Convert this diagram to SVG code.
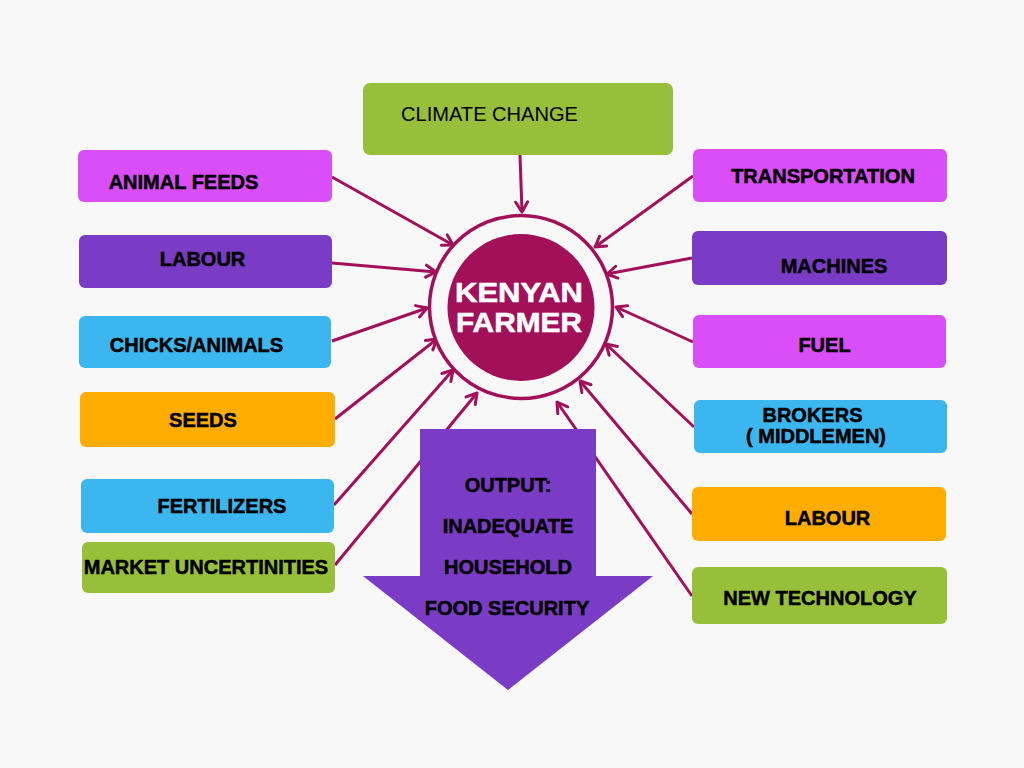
<svg xmlns="http://www.w3.org/2000/svg" width="1024" height="768" viewBox="0 0 1024 768">
<style>
.box{stroke:none}
.mag{fill:#D94EF6}
.pur{fill:#7A3CC4}
.blu{fill:#3BB6EF}
.org{fill:#FFAD00}
.grn{fill:#97BF3A}
.lbl{font-family:"Liberation Sans",Arial,sans-serif;font-weight:bold;font-size:20px;fill:#000;stroke:#000;stroke-width:0.5;text-anchor:middle}
.con{stroke:#A3105A;stroke-width:3;fill:none;marker-end:url(#ah)}
</style>
<defs>
<marker id="ah" markerUnits="userSpaceOnUse" markerWidth="16" markerHeight="16" refX="12" refY="7" orient="auto" viewBox="0 0 16 14">
<path d="M2,1 L12,7 L2,13" fill="none" stroke="#A3105A" stroke-width="3" stroke-linecap="round" stroke-linejoin="round"/>
</marker>
</defs>
<rect x="0" y="0" width="1024" height="768" fill="#F8F8F8"/>

<g id="connectors">
<line class="con" x1="520" y1="155" x2="522" y2="212"/>
<line class="con" x1="332" y1="177" x2="453" y2="245"/>
<line class="con" x1="332" y1="263" x2="436" y2="272"/>
<line class="con" x1="332" y1="341" x2="427" y2="308"/>
<line class="con" x1="335" y1="419" x2="437" y2="339"/>
<line class="con" x1="334" y1="505" x2="453" y2="370"/>
<line class="con" x1="335" y1="565" x2="477" y2="393"/>
<line class="con" x1="693" y1="176" x2="595" y2="247"/>
<line class="con" x1="692" y1="258" x2="607" y2="274"/>
<line class="con" x1="693" y1="342" x2="616" y2="307"/>
<line class="con" x1="694" y1="427" x2="606" y2="344"/>
<line class="con" x1="692" y1="514" x2="580" y2="381"/>
<line class="con" x1="692" y1="596" x2="557" y2="402"/>
</g>

<g id="kenyan-farmer">
<circle cx="521" cy="307" r="91.5" fill="#F8F8F8" stroke="#A3105A" stroke-width="3.5"/>
<circle cx="521" cy="307.5" r="73.5" fill="#A3105A"/>
<text x="519" y="302" font-family="'Liberation Sans',Arial,sans-serif" font-weight="bold" font-size="28" fill="#FFFFFF" stroke="#FFFFFF" stroke-width="0.6" text-anchor="middle" textLength="128" lengthAdjust="spacingAndGlyphs">KENYAN</text>
<text x="519" y="332" font-family="'Liberation Sans',Arial,sans-serif" font-weight="bold" font-size="28" fill="#FFFFFF" stroke="#FFFFFF" stroke-width="0.6" text-anchor="middle" textLength="126" lengthAdjust="spacingAndGlyphs">FARMER</text>
</g>

<g id="climate-change">
<rect class="box grn" x="363" y="83" width="310" height="72" rx="7"/>
<text x="401" y="121" font-family="'Liberation Sans',Arial,sans-serif" font-size="20" fill="#000" textLength="177" lengthAdjust="spacingAndGlyphs">CLIMATE CHANGE</text>
</g>

<g id="animal-feeds">
<rect class="box mag" x="78" y="150" width="254" height="52" rx="6"/>
<text class="lbl" x="183.5" y="189">ANIMAL FEEDS</text>
</g>
<g id="labour-left">
<rect class="box pur" x="79" y="235" width="253" height="53" rx="6"/>
<text class="lbl" x="202.5" y="266">LABOUR</text>
</g>
<g id="chicks-animals">
<rect class="box blu" x="79" y="316" width="252" height="52" rx="6"/>
<text class="lbl" x="196.5" y="352">CHICKS/ANIMALS</text>
</g>
<g id="seeds">
<rect class="box org" x="80" y="392" width="255" height="55" rx="6"/>
<text class="lbl" x="203" y="427">SEEDS</text>
</g>
<g id="fertilizers">
<rect class="box blu" x="81" y="479" width="253" height="54" rx="6"/>
<text class="lbl" x="222" y="513">FERTILIZERS</text>
</g>
<g id="market-uncertinities">
<rect class="box grn" x="82" y="542" width="253" height="51" rx="6"/>
<text class="lbl" x="206" y="574">MARKET UNCERTINITIES</text>
</g>

<g id="transportation">
<rect class="box mag" x="693" y="149" width="254" height="53" rx="6"/>
<text class="lbl" x="823" y="183">TRANSPORTATION</text>
</g>
<g id="machines">
<rect class="box pur" x="692" y="231" width="255" height="54" rx="6"/>
<text class="lbl" x="834" y="273">MACHINES</text>
</g>
<g id="fuel">
<rect class="box mag" x="693" y="315" width="253" height="53" rx="6"/>
<text class="lbl" x="824.5" y="352">FUEL</text>
</g>
<g id="brokers">
<rect class="box blu" x="694" y="400" width="253" height="53" rx="6"/>
<text class="lbl" x="812.5" y="422" font-size="19">BROKERS</text>
<text class="lbl" x="816" y="443" font-size="19">( MIDDLEMEN)</text>
</g>
<g id="labour-right">
<rect class="box org" x="692" y="487" width="254" height="54" rx="6"/>
<text class="lbl" x="827.5" y="525">LABOUR</text>
</g>
<g id="new-technology">
<rect class="box grn" x="692" y="567" width="255" height="57" rx="6"/>
<text class="lbl" x="820" y="605">NEW TECHNOLOGY</text>
</g>

<g id="output">
<polygon points="420,429 596,429 596,576 653,576 508,690 363,576 420,576" fill="#7A3CC4"/>
<text class="lbl" x="508" y="492" font-size="19">OUTPUT:</text>
<text class="lbl" x="508" y="533" font-size="19">INADEQUATE</text>
<text class="lbl" x="508" y="574" font-size="19">HOUSEHOLD</text>
<text class="lbl" x="507" y="615" font-size="19">FOOD SECURITY</text>
</g>
</svg>
